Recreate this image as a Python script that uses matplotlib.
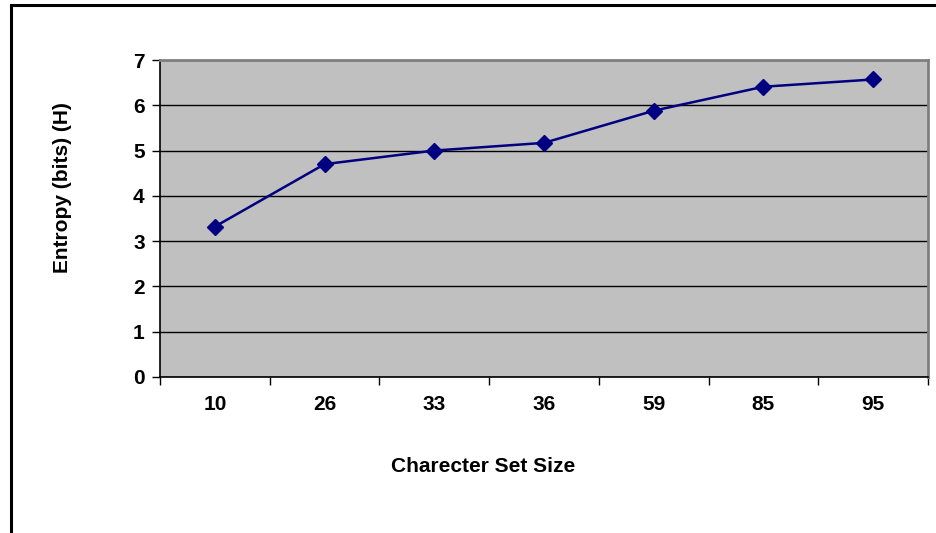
import matplotlib.pyplot as plt
import numpy as np
from matplotlib.patches import Rectangle

# character set sizes and their entropy in bits
set_sizes = ['10', '26', '33', '36', '59', '85', '95']
entropy = [3.32, 4.70, 5.00, 5.17, 5.88, 6.41, 6.57]

plt.rcParams['font.family'] = ['Liberation Sans', 'DejaVu Sans']
plt.rcParams['font.weight'] = 'bold'

fig = plt.figure(figsize=(9.37, 5.33), dpi=100)
fig.patch.set_facecolor('white')

# chart frame (only top and left edges fall inside the picture)
fig.patches.append(Rectangle((11.5 / 937, -0.1), 1.1, (533 - 5.5) / 533 + 0.1,
                             transform=fig.transFigure, fill=False,
                             edgecolor='black', linewidth=2.2, zorder=0))

ax = fig.add_axes([160 / 937, 1 - 377 / 533, (928 - 160) / 937, (377 - 60) / 533])
ax.set_facecolor('#c0c0c0')

ind = np.arange(len(set_sizes))
ax.plot(ind, entropy, color='#000080', linewidth=1.8, marker='D',
        markersize=8, markerfacecolor='#000080', markeredgecolor='#000080',
        zorder=3, clip_on=False)

ax.set_xlim(-0.5, len(set_sizes) - 0.5)
ax.set_ylim(0, 7)
ax.set_yticks(range(0, 8))
ax.grid(axis='y', color='black', linewidth=1.0)
ax.set_axisbelow(True)

# ticks sit on category boundaries, labels in the middle
ax.set_xticks(np.arange(-0.5, len(set_sizes), 1.0))
ax.set_xticklabels([])
ax.set_xticks(ind, minor=True)
ax.set_xticklabels(set_sizes, minor=True)
ax.tick_params(axis='x', which='major', length=6, width=1, color='black', direction='out')
ax.tick_params(axis='x', which='minor', length=0, pad=13, labelsize=15)
ax.tick_params(axis='y', length=6, width=1, direction='out', pad=5, labelsize=15)

for side in ['top', 'right']:
    ax.spines[side].set_color('#808080')
    ax.spines[side].set_linewidth(2)
for side in ['left', 'bottom']:
    ax.spines[side].set_color('black')
    ax.spines[side].set_linewidth(1.2)

fig.text(483 / 937, 1 - 466 / 533, 'Charecter Set Size', ha='center', va='center',
         fontsize=15, fontweight='bold')
fig.text(63 / 937, 1 - 188 / 533, 'Entropy (bits) (H)', ha='center', va='center',
         rotation=90, fontsize=15, fontweight='bold')

fig.savefig('out.png', dpi=100)
